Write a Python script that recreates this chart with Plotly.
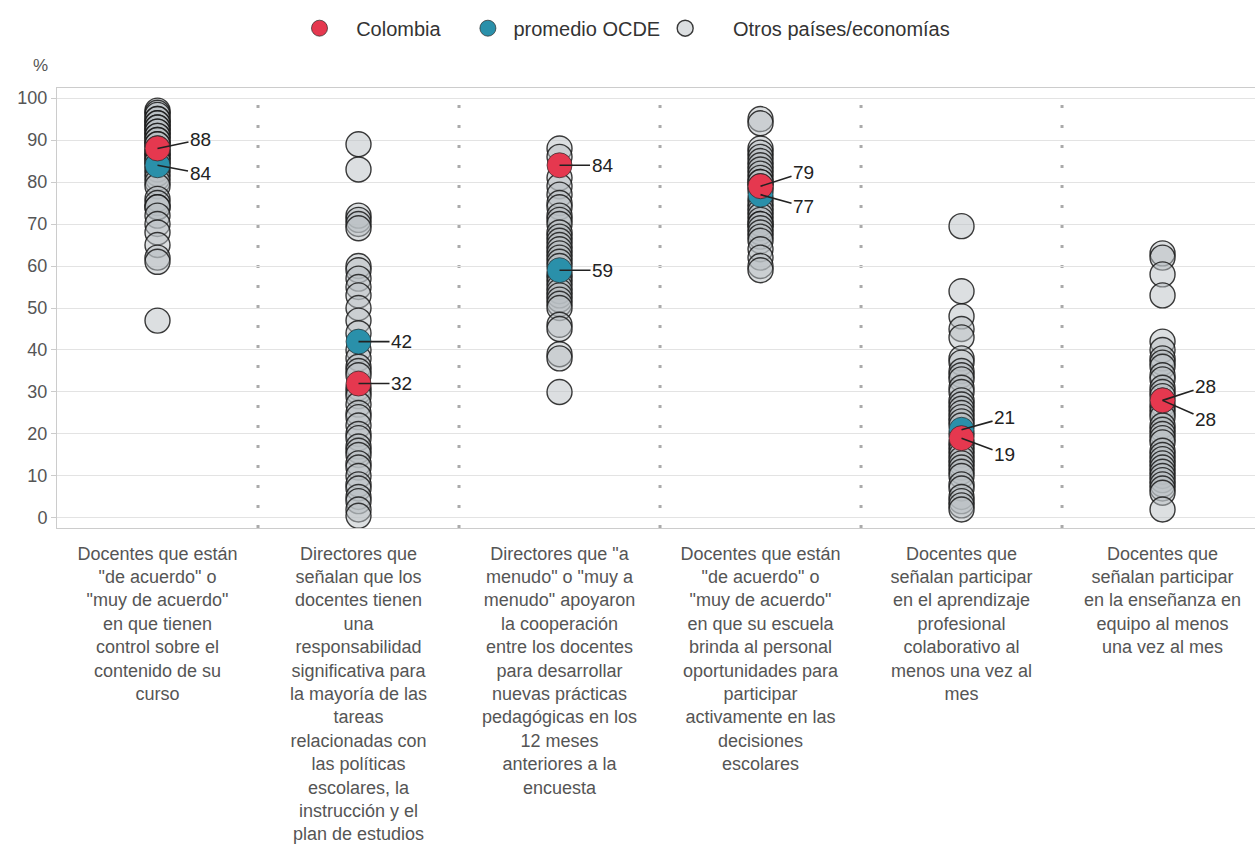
import plotly.graph_objects as go

categories = [
    'Docentes que están<br>"de acuerdo" o<br>"muy de acuerdo"<br>en que tienen<br>control sobre el<br>contenido de su<br>curso',
    'Directores que<br>señalan que los<br>docentes tienen<br>una<br>responsabilidad<br>significativa para<br>la mayoría de las<br>tareas<br>relacionadas con<br>las políticas<br>escolares, la<br>instrucción y el<br>plan de estudios',
    'Directores que "a<br>menudo" o "muy a<br>menudo" apoyaron<br>la cooperación<br>entre los docentes<br>para desarrollar<br>nuevas prácticas<br>pedagógicas en los<br>12 meses<br>anteriores a la<br>encuesta',
    'Docentes que están<br>"de acuerdo" o<br>"muy de acuerdo"<br>en que su escuela<br>brinda al personal<br>oportunidades para<br>participar<br>activamente en las<br>decisiones<br>escolares',
    'Docentes que<br>señalan participar<br>en el aprendizaje<br>profesional<br>colaborativo al<br>menos una vez al<br>mes',
    'Docentes que<br>señalan participar<br>en la enseñanza en<br>equipo al menos<br>una vez al mes',
]

colombia = [88, 32, 84, 79, 19, 28]
ocde = [84, 42, 59, 77, 21, 28]

otros_1 = [97, 96.5, 96, 95, 95, 94, 94, 93, 93, 92, 92, 91, 91, 90, 90, 89, 89, 88, 87, 87,
           86, 86, 85, 85, 84, 83, 82, 81, 80, 79, 76, 75, 74, 74, 72, 70, 68, 65, 62, 61, 47]
otros_2 = [89, 83, 72, 71, 70, 69, 60, 59, 57, 55, 53, 50, 47, 44, 40, 38, 36, 35, 34, 31,
           30, 29, 27, 25, 24, 22, 20, 19, 17, 16, 15, 13, 12, 10, 8, 7, 5, 4, 2, 0.5]
otros_3 = [88, 86, 81, 79, 77, 75, 74, 72, 71, 70, 68, 67, 66, 65, 64, 63, 62, 61, 60, 58,
           57, 56, 55, 54, 53, 52, 51, 50, 46, 45, 39, 38, 30]
otros_4 = [95, 94, 88, 87, 86, 85, 84, 83, 82, 81, 80, 80, 79, 78, 76, 75, 74, 73, 72, 71,
           70, 70, 69, 68, 67, 66, 64, 62, 60, 59]
otros_5 = [69.5, 54, 48, 45, 43, 38, 37, 35, 34, 33, 31, 30, 28, 27, 26, 25, 24, 23, 22, 20,
           18, 17, 16, 15, 14, 13, 12, 11, 10, 8, 7, 5, 4, 3, 2]
otros_6 = [63, 62, 58, 53, 42, 40, 38, 37, 36, 34, 33, 31, 30, 29, 27, 26, 25, 24, 22, 21,
           20, 19, 18, 16, 15, 14, 13, 12, 11, 10, 9, 8, 7, 6, 2]
otros = [otros_1, otros_2, otros_3, otros_4, otros_5, otros_6]

# label offsets (pixels) for Colombia / OCDE value labels
col_ay = [-9, 0, 0, -14, 16, -14]
ocde_ay = [8, 0, 0, 12, -12, 19]

FONT = "Liberation Sans, Arial, sans-serif"
RED = "#e5384f"
TEAL = "#2a90aa"
NB = "\u00a0"

fig = go.Figure()

ox, oy = [], []
for i, vals in enumerate(otros):
    ox += [i] * len(vals)
    oy += vals

fig.add_trace(go.Scatter(
    x=ox, y=oy, mode="markers", name=NB * 5 + "Otros países/economías",
    marker=dict(size=25, color="rgba(185,192,196,0.5)",
                line=dict(color="rgba(25,25,25,0.85)", width=1.4)),
    hoverinfo="y",
))
fig.add_trace(go.Scatter(
    x=list(range(len(categories))), y=ocde, mode="markers",
    name=NB + "promedio OCDE",
    marker=dict(size=25, color=TEAL, line=dict(color="rgba(40,40,40,0.7)", width=1)),
))
fig.add_trace(go.Scatter(
    x=list(range(len(categories))), y=colombia, mode="markers",
    name=NB * 3 + "Colombia" + NB * 4,
    marker=dict(size=25, color=RED, line=dict(color="rgba(40,40,40,0.7)", width=1)),
))

annotations = []
for i in range(len(categories)):
    for val, ay in ((colombia[i], col_ay[i]), (ocde[i], ocde_ay[i])):
        annotations.append(dict(
            x=i, y=val, xref="x", yref="y", text=str(val),
            showarrow=True, arrowhead=0, arrowwidth=1.6, arrowcolor="#222",
            ax=43, ay=ay, standoff=0, startstandoff=0,
            font=dict(family=FONT, size=19, color="#222"),
        ))
annotations.append(dict(
    xref="paper", yref="paper", x=-0.014, y=1.052, text="%", showarrow=False,
    xanchor="center", yanchor="middle",
    font=dict(family=FONT, size=17, color="#555"),
))

shapes = []
for i in range(len(categories) - 1):
    shapes.append(dict(
        type="line", xref="x", yref="paper", x0=i + 0.5, x1=i + 0.5, y0=0, y1=1,
        line=dict(color="#aaaaaa", width=3, dash="3px,17px"), layer="below",
    ))

fig.update_layout(
    width=1255, height=854,
    margin=dict(l=57, r=0, t=88, b=326, autoexpand=False),
    paper_bgcolor="white", plot_bgcolor="white",
    font=dict(family=FONT, size=18, color="#555"),
    showlegend=True,
    legend=dict(
        orientation="h", xref="container", yref="container",
        x=0.5, xanchor="center", y=0.967, yanchor="middle",
        traceorder="reversed", itemsizing="trace",
        font=dict(family=FONT, size=20, color="#333"),
    ),
    annotations=annotations,
    shapes=shapes,
)
fig.update_xaxes(
    range=[-0.5, 5.46], tickmode="array", automargin=False,
    tickvals=list(range(len(categories))), ticktext=categories,
    showgrid=False, zeroline=False, showline=True, mirror=True,
    linecolor="#cccccc", linewidth=1, ticks="outside", ticklen=9,
    tickcolor="rgba(0,0,0,0)", tickangle=0,
    tickfont=dict(family=FONT, size=18, color="#555"),
)
fig.update_yaxes(
    range=[-2.4, 102.4], tickvals=list(range(0, 101, 10)), automargin=False,
    showgrid=True, gridcolor="#e3e3e3", gridwidth=1, zeroline=False,
    showline=True, mirror=True, linecolor="#cccccc", linewidth=1,
    ticks="outside", ticklen=5, tickcolor="#cccccc",
    tickfont=dict(family=FONT, size=18, color="#555"),
)

fig.write_html("out.html", config={"displayModeBar": False},
               post_script="document.body.style.margin='0';")
